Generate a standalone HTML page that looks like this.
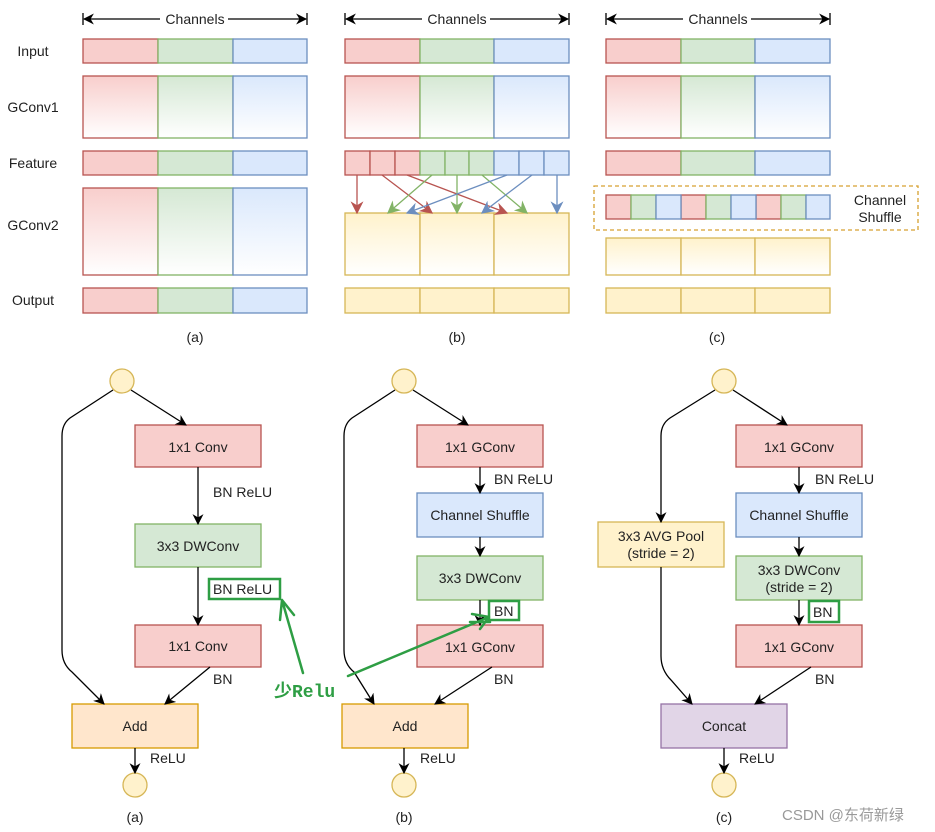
<!DOCTYPE html>
<html><head><meta charset="utf-8"><style>body{margin:0;background:#fff}svg{display:block}text{font-family:"Liberation Sans","Noto Sans CJK SC",sans-serif;font-size:14px;fill:#222}</style></head><body>
<svg width="935" height="832" viewBox="0 0 935 832" xmlns="http://www.w3.org/2000/svg">
<defs>
<linearGradient id="gr" x1="0" y1="0" x2="0" y2="1"><stop offset="0" stop-color="#f8cecc"/><stop offset="1" stop-color="#fff"/></linearGradient>
<linearGradient id="gg" x1="0" y1="0" x2="0" y2="1"><stop offset="0" stop-color="#d5e8d4"/><stop offset="1" stop-color="#fff"/></linearGradient>
<linearGradient id="gb" x1="0" y1="0" x2="0" y2="1"><stop offset="0" stop-color="#dae8fc"/><stop offset="1" stop-color="#fff"/></linearGradient>
<linearGradient id="gy" x1="0" y1="0" x2="0" y2="1"><stop offset="0" stop-color="#fff2cc"/><stop offset="1" stop-color="#fff"/></linearGradient>
<marker id="ak" viewBox="0 0 10 10" refX="9" refY="5" markerWidth="11" markerHeight="11" orient="auto-start-reverse" markerUnits="userSpaceOnUse"><path d="M0,0L10,5L0,10L3,5z" fill="#000"/></marker>
<marker id="ar" viewBox="0 0 10 10" refX="9" refY="5" markerWidth="13" markerHeight="13" orient="auto" markerUnits="userSpaceOnUse"><path d="M0,0L10,5L0,10L3,5z" fill="#b85450"/></marker>
<marker id="ag" viewBox="0 0 10 10" refX="9" refY="5" markerWidth="13" markerHeight="13" orient="auto" markerUnits="userSpaceOnUse"><path d="M0,0L10,5L0,10L3,5z" fill="#82b366"/></marker>
<marker id="ab" viewBox="0 0 10 10" refX="9" refY="5" markerWidth="13" markerHeight="13" orient="auto" markerUnits="userSpaceOnUse"><path d="M0,0L10,5L0,10L3,5z" fill="#6c8ebf"/></marker>
</defs>
<g stroke-width="1.3">
<g stroke="#000" fill="none">
<line x1="84" y1="19" x2="306" y2="19" marker-start="url(#ak)" marker-end="url(#ak)"/>
<line x1="346" y1="19" x2="568" y2="19" marker-start="url(#ak)" marker-end="url(#ak)"/>
<line x1="607" y1="19" x2="829" y2="19" marker-start="url(#ak)" marker-end="url(#ak)"/>
<path d="M83,13V25M307,13V25M345,13V25M569,13V25M606,13V25M830,13V25"/>
</g>
</g>
<g text-anchor="middle">
<rect x="160" y="12" width="68" height="14" fill="#fff"/><text x="195" y="24">Channels</text>
<rect x="422" y="12" width="68" height="14" fill="#fff"/><text x="457" y="24">Channels</text>
<rect x="683" y="12" width="68" height="14" fill="#fff"/><text x="718" y="24">Channels</text>
<text x="33" y="56">Input</text><text x="33" y="112">GConv1</text><text x="33" y="168">Feature</text><text x="33" y="230">GConv2</text><text x="33" y="305">Output</text>
<text x="195" y="342">(a)</text><text x="457" y="342">(b)</text><text x="717" y="342">(c)</text>
</g>
<g stroke-width="1.3">
<rect x="83" y="39" width="75" height="24" fill="#f8cecc" stroke="#b85450"/><rect x="158" y="39" width="75" height="24" fill="#d5e8d4" stroke="#82b366"/><rect x="233" y="39" width="74" height="24" fill="#dae8fc" stroke="#6c8ebf"/>
<rect x="83" y="76" width="75" height="62" fill="url(#gr)" stroke="#b85450"/><rect x="158" y="76" width="75" height="62" fill="url(#gg)" stroke="#82b366"/><rect x="233" y="76" width="74" height="62" fill="url(#gb)" stroke="#6c8ebf"/>
<rect x="83" y="151" width="75" height="24" fill="#f8cecc" stroke="#b85450"/><rect x="158" y="151" width="75" height="24" fill="#d5e8d4" stroke="#82b366"/><rect x="233" y="151" width="74" height="24" fill="#dae8fc" stroke="#6c8ebf"/>
<rect x="83" y="188" width="75" height="87" fill="url(#gr)" stroke="#b85450"/><rect x="158" y="188" width="75" height="87" fill="url(#gg)" stroke="#82b366"/><rect x="233" y="188" width="74" height="87" fill="url(#gb)" stroke="#6c8ebf"/>
<rect x="83" y="288" width="75" height="25" fill="#f8cecc" stroke="#b85450"/><rect x="158" y="288" width="75" height="25" fill="#d5e8d4" stroke="#82b366"/><rect x="233" y="288" width="74" height="25" fill="#dae8fc" stroke="#6c8ebf"/>
<rect x="345" y="39" width="75" height="24" fill="#f8cecc" stroke="#b85450"/><rect x="420" y="39" width="74" height="24" fill="#d5e8d4" stroke="#82b366"/><rect x="494" y="39" width="75" height="24" fill="#dae8fc" stroke="#6c8ebf"/>
<rect x="345" y="76" width="75" height="62" fill="url(#gr)" stroke="#b85450"/><rect x="420" y="76" width="74" height="62" fill="url(#gg)" stroke="#82b366"/><rect x="494" y="76" width="75" height="62" fill="url(#gb)" stroke="#6c8ebf"/>
<g fill="#f8cecc" stroke="#b85450"><rect x="345" y="151" width="25" height="24"/><rect x="370" y="151" width="25" height="24"/><rect x="395" y="151" width="25" height="24"/></g>
<g fill="#d5e8d4" stroke="#82b366"><rect x="420" y="151" width="25" height="24"/><rect x="445" y="151" width="24" height="24"/><rect x="469" y="151" width="25" height="24"/></g>
<g fill="#dae8fc" stroke="#6c8ebf"><rect x="494" y="151" width="25" height="24"/><rect x="519" y="151" width="25" height="24"/><rect x="544" y="151" width="25" height="24"/></g>
<g fill="url(#gy)" stroke="#d6b656"><rect x="345" y="213" width="75" height="62"/><rect x="420" y="213" width="74" height="62"/><rect x="494" y="213" width="75" height="62"/></g>
<g fill="#fff2cc" stroke="#d6b656"><rect x="345" y="288" width="75" height="25"/><rect x="420" y="288" width="74" height="25"/><rect x="494" y="288" width="75" height="25"/></g>
<g fill="none">
<g stroke="#b85450"><line x1="357" y1="175" x2="357" y2="213" marker-end="url(#ar)"/><line x1="382" y1="175" x2="432" y2="213" marker-end="url(#ar)"/><line x1="407" y1="175" x2="507" y2="213" marker-end="url(#ar)"/></g>
<g stroke="#82b366"><line x1="432" y1="175" x2="388" y2="213" marker-end="url(#ag)"/><line x1="457" y1="175" x2="457" y2="213" marker-end="url(#ag)"/><line x1="482" y1="175" x2="527" y2="213" marker-end="url(#ag)"/></g>
<g stroke="#6c8ebf"><line x1="507" y1="175" x2="407" y2="213" marker-end="url(#ab)"/><line x1="532" y1="175" x2="482" y2="213" marker-end="url(#ab)"/><line x1="557" y1="175" x2="557" y2="213" marker-end="url(#ab)"/></g>
</g>
<rect x="606" y="39" width="75" height="24" fill="#f8cecc" stroke="#b85450"/><rect x="681" y="39" width="74" height="24" fill="#d5e8d4" stroke="#82b366"/><rect x="755" y="39" width="75" height="24" fill="#dae8fc" stroke="#6c8ebf"/>
<rect x="606" y="76" width="75" height="62" fill="url(#gr)" stroke="#b85450"/><rect x="681" y="76" width="74" height="62" fill="url(#gg)" stroke="#82b366"/><rect x="755" y="76" width="75" height="62" fill="url(#gb)" stroke="#6c8ebf"/>
<rect x="606" y="151" width="75" height="24" fill="#f8cecc" stroke="#b85450"/><rect x="681" y="151" width="74" height="24" fill="#d5e8d4" stroke="#82b366"/><rect x="755" y="151" width="75" height="24" fill="#dae8fc" stroke="#6c8ebf"/>
<rect x="594" y="186" width="324" height="44" fill="none" stroke="#d6a030" stroke-dasharray="4,3"/>
<g fill="#f8cecc" stroke="#b85450"><rect x="606" y="195" width="25" height="24"/><rect x="681" y="195" width="25" height="24"/><rect x="756" y="195" width="25" height="24"/></g>
<g fill="#d5e8d4" stroke="#82b366"><rect x="631" y="195" width="25" height="24"/><rect x="706" y="195" width="25" height="24"/><rect x="781" y="195" width="25" height="24"/></g>
<g fill="#dae8fc" stroke="#6c8ebf"><rect x="656" y="195" width="25" height="24"/><rect x="731" y="195" width="25" height="24"/><rect x="806" y="195" width="24" height="24"/></g>
<g fill="url(#gy)" stroke="#d6b656"><rect x="606" y="238" width="75" height="37"/><rect x="681" y="238" width="74" height="37"/><rect x="755" y="238" width="75" height="37"/></g>
<g fill="#fff2cc" stroke="#d6b656"><rect x="606" y="288" width="75" height="25"/><rect x="681" y="288" width="74" height="25"/><rect x="755" y="288" width="75" height="25"/></g>
</g>
<g text-anchor="middle"><text x="880" y="205">Channel</text><text x="880" y="222">Shuffle</text></g>

<g stroke-width="1.3">
<g fill="#fff2cc" stroke="#d6b656"><circle cx="122" cy="381" r="12"/><circle cx="135" cy="785" r="12"/><circle cx="404" cy="381" r="12"/><circle cx="404" cy="785" r="12"/><circle cx="724" cy="381" r="12"/><circle cx="724" cy="785" r="12"/></g>
<g fill="#f8cecc" stroke="#b85450">
<rect x="135" y="425" width="126" height="42"/><rect x="135" y="625" width="126" height="42"/>
<rect x="417" y="425" width="126" height="42"/><rect x="417" y="625" width="126" height="42"/>
<rect x="736" y="425" width="126" height="42"/><rect x="736" y="625" width="126" height="42"/></g>
<g fill="#d5e8d4" stroke="#82b366"><rect x="135" y="524" width="126" height="43"/><rect x="417" y="556" width="126" height="44"/><rect x="736" y="556" width="126" height="44"/></g>
<g fill="#dae8fc" stroke="#6c8ebf"><rect x="417" y="493" width="126" height="44"/><rect x="736" y="493" width="126" height="44"/></g>
<g fill="#ffe6cc" stroke="#d79b00"><rect x="72" y="704" width="126" height="44"/><rect x="342" y="704" width="126" height="44"/></g>
<rect x="598" y="522" width="126" height="45" fill="#fff2cc" stroke="#d6b656"/>
<rect x="661" y="704" width="126" height="44" fill="#e1d5e7" stroke="#9673a6"/>
<g stroke="#000" fill="none">
<path d="M131,390L186,425" marker-end="url(#ak)"/><path d="M198,467V524" marker-end="url(#ak)"/><path d="M198,567V625" marker-end="url(#ak)"/><path d="M210,667L165,704" marker-end="url(#ak)"/>
<path d="M113,390L70,418Q62,424 62,436V650Q62,664 72,672L104,704" marker-end="url(#ak)"/>
<path d="M135,748V773" marker-end="url(#ak)"/>
<path d="M413,390L468,425" marker-end="url(#ak)"/><path d="M480,467V493" marker-end="url(#ak)"/><path d="M480,537V556" marker-end="url(#ak)"/><path d="M480,600V625" marker-end="url(#ak)"/><path d="M492,667L435,704" marker-end="url(#ak)"/>
<path d="M395,390L352,418Q344,424 344,436V650Q344,664 354,672L374,704" marker-end="url(#ak)"/>
<path d="M404,748V773" marker-end="url(#ak)"/>
<path d="M733,390L787,425" marker-end="url(#ak)"/><path d="M799,467V493" marker-end="url(#ak)"/><path d="M799,537V556" marker-end="url(#ak)"/><path d="M799,600V625" marker-end="url(#ak)"/><path d="M811,667L755,704" marker-end="url(#ak)"/>
<path d="M715,390L670,418Q661,424 661,436V522" marker-end="url(#ak)"/>
<path d="M661,567V656Q661,670 671,680L692,704" marker-end="url(#ak)"/>
<path d="M724,748V773" marker-end="url(#ak)"/>
</g>
<g fill="#fff" stroke="#2e9e44" stroke-width="2.5"><rect x="209" y="579" width="71" height="20"/><rect x="489" y="601" width="30" height="19"/><rect x="809" y="601" width="30" height="21"/></g>
<g stroke="#2e9e44" stroke-width="2.5" fill="none" stroke-linecap="round">
<path d="M303,673L282,600M282,600L280,620M282,600L294,615"/>
<path d="M348,676L489,617M489,617L472,614M489,617L480,629"/>
<path d="M470,622H490"/>
</g>
</g>
<g text-anchor="middle">
<text x="198" y="452">1x1 Conv</text><text x="198" y="551">3x3 DWConv</text><text x="198" y="651">1x1 Conv</text><text x="135" y="731">Add</text>
<text x="480" y="452">1x1 GConv</text><text x="480" y="520">Channel Shuffle</text><text x="480" y="583">3x3 DWConv</text><text x="480" y="652">1x1 GConv</text><text x="405" y="731">Add</text>
<text x="799" y="452">1x1 GConv</text><text x="799" y="520">Channel Shuffle</text><text x="799" y="575">3x3 DWConv</text><text x="799" y="592">(stride = 2)</text><text x="799" y="652">1x1 GConv</text><text x="724" y="731">Concat</text>
<text x="661" y="541">3x3 AVG Pool</text><text x="661" y="558">(stride = 2)</text>
<text x="135" y="822">(a)</text><text x="404" y="822">(b)</text><text x="724" y="822">(c)</text>
</g>
<g>
<text x="213" y="497">BN ReLU</text><text x="213" y="594">BN ReLU</text><text x="213" y="684">BN</text><text x="150" y="763">ReLU</text>
<text x="494" y="484">BN ReLU</text><text x="494" y="616">BN</text><text x="494" y="684">BN</text><text x="420" y="763">ReLU</text>
<text x="815" y="484">BN ReLU</text><text x="813" y="617">BN</text><text x="815" y="684">BN</text><text x="739" y="763">ReLU</text>
<text x="274" y="697" style="fill:#2e9e44;font-family:'Liberation Mono','Noto Sans CJK SC',monospace;font-size:18px;font-weight:bold">少Relu</text>
<text x="782" y="820" style="fill:#999;font-size:15px">CSDN @东荷新绿</text>
</g>
</svg>
</body></html>
